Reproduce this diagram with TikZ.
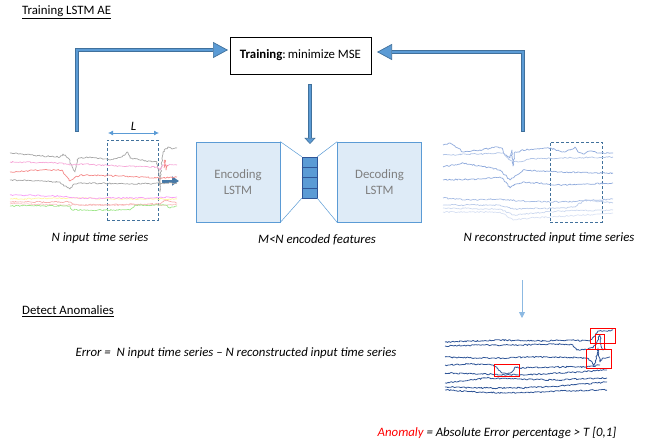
\documentclass[tikz,border=0pt]{standalone}
\usepackage{fontspec}
\setmainfont{Carlito}
\usetikzlibrary{decorations.pathmorphing,arrows.meta,calc}
\definecolor{abl}{HTML}{5B9BD5}
\definecolor{abd}{HTML}{41719C}
\definecolor{boxfill}{HTML}{DEEBF7}
\definecolor{dkb}{HTML}{2F5597}
\definecolor{lgb}{HTML}{8FAADC}
\definecolor{tgray}{HTML}{7F7F7F}
\definecolor{sgray}{HTML}{A6A6A6}
\definecolor{spink}{HTML}{F6A8D8}
\definecolor{ssalm}{HTML}{F48A8A}
\definecolor{smag}{HTML}{F79CF7}
\definecolor{syel}{HTML}{FFF4A0}
\definecolor{sgrn}{HTML}{9EE68A}
\tikzset{
  bigarrow/.style={line width=4pt, draw=abd, -{Triangle[width=16pt,length=15pt,fill=abl,line width=0.7pt]}},
  bigin/.style={line width=2.4pt, draw=abl, shorten >=15pt},
  lstmbox/.style={draw=abl, fill=boxfill, line width=0.7pt, minimum width=84pt, minimum height=80pt, align=center, text=tgray, inner sep=0pt},
  ts/.style={decorate, decoration={random steps, segment length=1.4pt, amplitude=0.7pt}, line width=0.7pt, line join=round},
  dashbox/.style={draw=abd, dashed, dash pattern=on 3pt off 2pt, line width=0.9pt, inner sep=0pt},
  redbox/.style={draw=red, line width=0.9pt, inner sep=0pt},
  lbl/.style={font=\fontsize{12.8}{15}\selectfont\itshape, inner sep=0pt}
}
\begin{document}
\begin{tikzpicture}[x=1pt,y=-1pt, font=\fontsize{12.8}{15}\selectfont]
\pgfmathsetseed{7}
\useasboundingbox (0,0) rectangle (649,444);

% titles
\node[anchor=west, inner sep=0pt] (t1) at (22,12) {\underline{Training LSTM AE}};
\node[anchor=west, inner sep=0pt] (t2) at (22,311) {\underline{Detect Anomalies}};

% training box
\node[draw, line width=0.7pt, minimum width=141pt, minimum height=37pt, inner sep=0pt] (train) at (300.5,55.5) {\textbf{Training}:\,minimize MSE};

% encoder / decoder
\node[lstmbox] (enc) at (238,182) {Encoding\\[1pt]LSTM};
\node[lstmbox] (dec) at (379.5,182) {Decoding\\[1pt]LSTM};
\node[draw=dkb, fill=abl, line width=0.7pt, minimum width=15pt, minimum height=41pt, inner sep=0pt] (bn) at (309.5,177.5) {};
\foreach \f in {0.25,0.5,0.75}
  \draw[dkb, line width=0.7pt] ($(bn.north west)!\f!(bn.south west)$) -- ($(bn.north east)!\f!(bn.south east)$);
\draw[abl, line width=0.5pt] (enc.north east) -- (bn.north west);
\draw[abl, line width=0.5pt] (enc.south east) -- (bn.south west);
\draw[abl, line width=0.5pt] (dec.north west) -- (bn.north east);
\draw[abl, line width=0.5pt] (dec.south west) -- (bn.south east);

% dashed windows
\node[dashbox, minimum width=51pt, minimum height=80pt] (winL) at (132.5,180) {};
\node[dashbox, minimum width=52pt, minimum height=80pt] (winR) at (576,182) {};

% big arrows
\coordinate (lsrc) at (77,132);
\coordinate (ltip) at (228,50);
\coordinate (rsrc) at (523,132);
\coordinate (rtip) at (377,52);
\draw[bigarrow] (lsrc) |- (ltip);
\draw[bigin] ($(lsrc)+(0,-0.9)$) |- (ltip);
\draw[bigarrow] (rsrc) |- (rtip);
\draw[bigin] ($(rsrc)+(0,-0.9)$) |- (rtip);

% down arrow
\coordinate (dsrc) at (310,84);
\coordinate (dtip) at (310,144);
\draw[line width=3.6pt, draw=abd, -{Triangle[width=11pt,length=6pt,fill=abl,line width=0.6pt]}] (dsrc) -- (dtip);
\draw[line width=2pt, draw=abl, shorten >=6pt] ($(dsrc)+(0,0.8)$) -- (dtip);

% L marker
\coordinate (La) at (108,133);
\coordinate (Lb) at (159,133);
\draw[abl, line width=0.8pt, {Latex[length=5pt,width=5pt]}-{Latex[length=5pt,width=5pt]}] (La) -- (Lb);
\node[lbl] (Ltxt) at (133.5,126) {L};

% small output arrow
\coordinate (oa) at (162,181);
\coordinate (ob) at (179,181);
\draw[line width=3pt, color=abd!80!abl, -{Triangle[width=9pt,length=7pt]}] (oa) -- (ob);

% thin arrow
\coordinate (ta) at (522,280);
\coordinate (tb) at (522,318);
\draw[abl!70, line width=0.8pt, -{Triangle[width=6pt,length=6pt]}] (ta) -- (tb);

% left time series
\draw[ts, sgray] plot coordinates {(10,153) (40,156) (60,157) (63,154) (68,158) (72,166) (75,172) (77,160) (80,158) (90,157) (110,160) (122,157) (127,152) (130,158) (140,160) (157,162) (159,175) (160,192) (161,168) (163,152) (168,147) (172,149) (177,148)};
\draw[ts, spink] plot coordinates {(10,162) (60,163) (70,165) (80,164) (120,166) (157,167) (160,170) (163,165) (177,165)};
\draw[ts, ssalm] plot coordinates {(164,168) (165,160) (166,170) (168,165)};
\draw[ts, ssalm] plot coordinates {(10,172) (40,170) (62,170) (66,176) (70,181) (74,178) (80,175) (120,176) (160,178) (177,177)};
\draw[ts, sgray] plot coordinates {(10,180) (40,181) (60,182) (65,186) (70,189) (74,184) (80,183) (130,184) (177,183)};
\draw[ts, syel] plot coordinates {(10,199) (70,198) (120,199) (177,199)};
\draw[ts, smag] plot coordinates {(10,195) (60,196) (75,198) (150,198) (177,197)};
\draw[ts, ssalm!70] plot coordinates {(10,202) (70,202) (75,205) (160,204) (165,200) (177,203)};
\draw[ts, ssalm!50] plot coordinates {(10,204) (80,205) (177,205)};
\draw[ts, sgrn] plot coordinates {(10,206) (70,206) (72,210) (130,210) (136,205) (165,205) (170,208) (177,206)};

% right reconstructed series
\draw[ts, lgb] plot coordinates {(443,145) (450,143) (455,146) (463,152) (480,150) (498,147) (502,148) (505,155) (510,158) (512,150) (513,166) (515,152) (518,152) (523,150) (535,149) (550,148) (562,152) (570,150) (575,147) (578,152) (583,154) (590,151) (600,153) (613,153)};
\draw[ts, lgb!70] plot coordinates {(443,155) (480,154) (503,153) (510,160) (518,162) (530,159) (560,158) (613,157)};
\draw[ts, lgb] plot coordinates {(443,167) (463,163) (480,166) (500,170) (505,175) (510,180) (515,176) (523,170) (560,172) (613,173)};
\draw[ts, lgb] plot coordinates {(443,180) (480,179) (500,177) (506,182) (510,188) (516,184) (523,182) (560,185) (613,183)};
\draw[ts, lgb!80] plot coordinates {(443,198) (470,200) (500,199) (520,201) (560,202) (600,200) (613,199)};
\draw[ts, lgb!60] plot coordinates {(443,205) (500,205) (513,209) (560,208) (575,207) (585,200) (613,203)};
\draw[ts, lgb!45] plot coordinates {(443,208) (500,209) (513,215) (560,211) (613,210)};
\draw[ts, lgb!35] plot coordinates {(443,212) (500,212) (513,220) (530,218) (600,214) (613,213)};

% bottom error series
\begin{scope}[ts/.append style={dkb, line width=0.8pt}]
\draw[ts] plot coordinates {(445,342) (470,341) (500,340) (540,341) (570,340) (590,341) (595,336) (598,331) (605,331) (613,330)};
\draw[ts] plot coordinates {(445,346) (480,345) (520,345) (560,344) (573,345) (577,350) (585,349) (593,348) (597,342) (600,335) (601,345) (603,350) (606,349)};
\draw[ts] plot coordinates {(445,357) (480,358) (503,358) (530,357) (553,357) (587,358) (591,361) (594,366) (596,360) (598,348) (600,362) (603,358) (610,357)};
\draw[ts] plot coordinates {(445,365) (470,364) (493,365) (497,368) (502,373) (507,374) (512,372) (515,367) (520,368) (550,367) (587,367) (600,365)};
\draw[ts] plot coordinates {(445,373) (480,374) (520,375) (560,373) (607,370)};
\draw[ts] plot coordinates {(445,383) (470,380) (487,378) (520,379) (553,380) (580,379) (607,378)};
\draw[ts] plot coordinates {(445,387) (480,388) (520,388) (560,386) (607,382)};
\draw[ts] plot coordinates {(445,390) (480,392) (503,393) (540,392) (560,391) (607,390)};
\end{scope}
\node[redbox, minimum width=25pt, minimum height=15pt] (r1) at (602.5,335.5) {};
\node[redbox, minimum width=9pt, minimum height=15pt] (r2) at (599.5,341.5) {};
\node[redbox, minimum width=25pt, minimum height=19pt] (r3) at (598.5,358.5) {};
\node[redbox, minimum width=25pt, minimum height=12pt] (r4) at (506.5,370) {};

% labels
\node[lbl] (l1) at (100,238) {N input time series};
\node[lbl] (l2) at (317,240) {M<N encoded features};
\node[lbl] (l3) at (549,238) {N reconstructed input time series};
\node[lbl] (l4) at (236,353) {Error =\ \ N input time series -- N reconstructed input time series};
\node[lbl] (l5) at (497,433) {\textcolor{red}{Anomaly} = Absolute Error percentage > T [0,1]};
\end{tikzpicture}
\end{document}
